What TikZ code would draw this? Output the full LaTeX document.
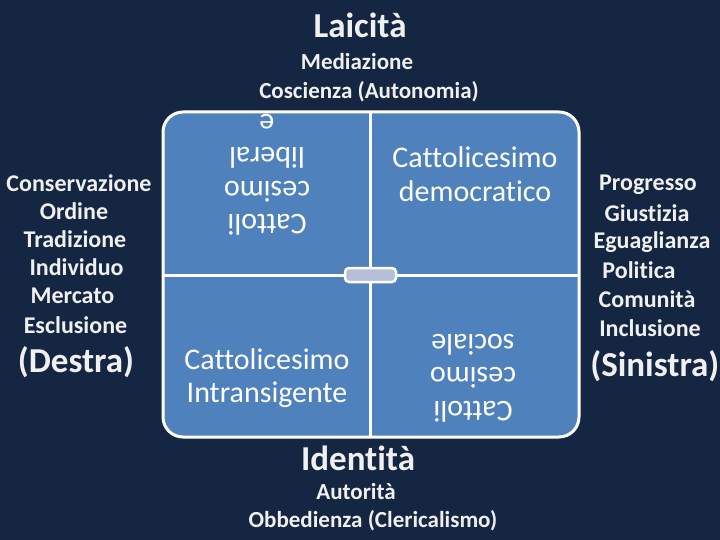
\documentclass[tikz,border=0pt]{standalone}
\usepackage{fontspec}
\setmainfont{Carlito}[Ligatures=NoCommon]
\definecolor{navy}{RGB}{20,38,66}
\definecolor{quadblue}{RGB}{79,129,189}
\definecolor{knob}{RGB}{182,191,217}
\tikzset{
  side/.style={text=white!94!black,font=\bfseries\fontsize{24}{28.7}\selectfont,align=center},
  sub/.style={side,font=\bfseries\fontsize{23}{29}\selectfont},
  wing/.style={side,font=\bfseries\fontsize{35}{40}\selectfont,inner sep=0pt},
  title/.style={text=white!94!black,font=\bfseries\fontsize{35}{40}\selectfont},
  quad/.style={text=white,font=\fontsize{30}{33.5}\selectfont,align=center}
}
\begin{document}
\begin{tikzpicture}[x=1pt,y=-1pt]
  \fill[navy] (0,0) rectangle (720,540);
  \useasboundingbox (0,0) rectangle (720,540);
  % matrix
  \filldraw[quadblue,draw=white,line width=3pt,rounded corners=20pt] (163,112) rectangle (579,437);
  \draw[white,line width=3pt] (370.5,112) -- (370.5,437);
  \draw[white,line width=3pt] (163,275) -- (579,275);
  \filldraw[knob,draw=white,line width=2.5pt,rounded corners=4pt] (345,268) rectangle (396,282);
  % quadrants
  \node[quad,rotate=180] (liberale) at (267,175) {Cattoli\\cesimo\\liberal\\e};
  \node[quad] (democratico) at (475,174) {Cattolicesimo\\democratico};
  \node[quad] (intransigente) at (267,378) {Cattolicesimo\\Intransigente};
  \node[quad,rotate=180] (sociale) at (473,378) {Cattoli\\cesimo\\sociale};
  % top and bottom
  \node[title] (laicita) at (360,25) {Laicità};
  \node[sub] (mediazione) at (357,62) {Mediazione};
  \node[sub] (coscienza) at (369,92) {Coscienza (Autonomia)};
  \node[title] (identita) at (358,458) {Identità};
  \node[sub] (autorita) at (356,492) {Autorità};
  \node[sub] (obbedienza) at (373,521) {Obbedienza (Clericalismo)};
  % left and right
  \foreach \x/\y/\txt [count=\i] in {79/183/Conservazione,74/211/Ordine,75/239/Tradizione,
      76.5/267/Individuo,72.5/296/Mercato,75.5/325/Esclusione}
    \node[side] (destra\i) at (\x,\y) {\txt};
  \foreach \x/\y/\txt [count=\i] in {648/185/Progresso,647/213/Giustizia,652/242/Eguaglianza,
      639/270/Politica,647/299/Comunità,650/328/Inclusione}
    \node[side] (sinistra\i) at (\x,\y) {\txt};
  \node[wing] (destra) at (76,362) {(Destra)};
  \node[wing,anchor=east] (sinistra) at (719.5,366) {(Sinistra)};
\end{tikzpicture}
\end{document}
